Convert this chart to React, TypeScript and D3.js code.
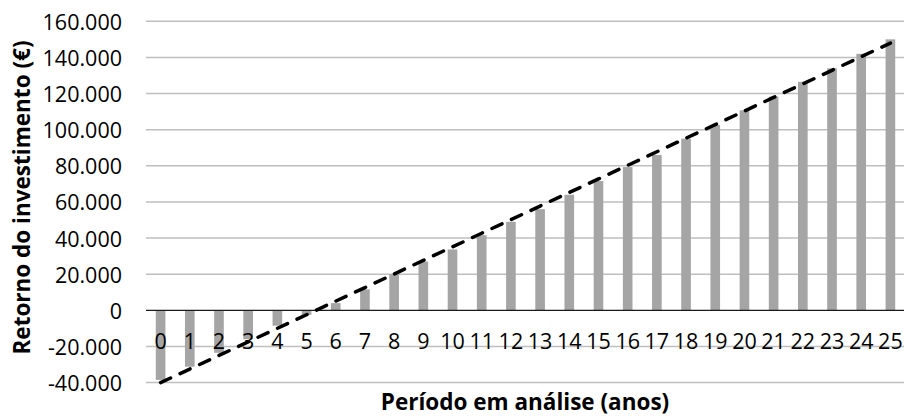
import React from 'react';
import * as d3 from 'd3';

// anos do período em análise
const periods: string[] = Array.from({ length: 26 }, (_, i) => String(i));

// retorno acumulado do investimento (€)
const retorno: number[] = [
  -38500, -31200, -23500, -16000, -8500, -2500, 4000, 11600, 20000, 27000,
  33700, 41600, 49000, 56000, 64000, 71600, 79300, 86000, 95000, 102600,
  110700, 118300, 126500, 134000, 142000, 150000,
];

const yTicks: number[] = [-40000, -20000, 0, 20000, 40000, 60000, 80000, 100000, 120000, 140000, 160000];

const W = 904;
const H = 416;
const plotLeft = 146;
const plotRight = 905;
const fontFamily = '"Open Sans", "Noto Sans", sans-serif';

const ptLocale = d3.formatLocale({
  decimal: ',',
  thousands: '.',
  grouping: [3],
  currency: ['', '€'],
  minus: '-',
});
const fmt = ptLocale.format(',');

const App: React.FC = () => {
  const x = d3
    .scaleBand<string>()
    .domain(periods)
    .range([plotLeft, plotRight])
    .paddingInner(0.67)
    .paddingOuter(0.335);

  const y = d3.scaleLinear().domain([-40000, 160000]).range([382.6, 21.3]);

  const cx = (p: string) => (x(p) ?? 0) + x.bandwidth() / 2;

  // linha de tendência linear (mínimos quadrados)
  const n = retorno.length;
  const xs = retorno.map((_, i) => i);
  const mx = d3.mean(xs) ?? 0;
  const my = d3.mean(retorno) ?? 0;
  const slope =
    d3.sum(xs, (xi, i) => (xi - mx) * (retorno[i] - my)) /
    d3.sum(xs, (xi) => (xi - mx) ** 2);
  const intercept = my - slope * mx;
  const trend = d3
    .line<number>()
    .x((i) => cx(periods[i]))
    .y((i) => y(intercept + slope * i));

  return (
    <svg
      width={W}
      height={H}
      style={{ position: 'absolute', left: 0, top: 0, background: '#fff' }}
      fontFamily={fontFamily}
    >
      {yTicks.map((t) => (
        <g key={t}>
          {t !== 0 && (
            <line x1={plotLeft} x2={W} y1={y(t)} y2={y(t)} stroke="#bfbfbf" strokeWidth={1.5} />
          )}
          <text
            x={122}
            y={y(t)}
            textAnchor="end"
            dominantBaseline="central"
            fontSize={21.5}
            fill="#000"
          >
            {fmt(t)}
          </text>
        </g>
      ))}

      {retorno.map((v, i) => (
        <rect
          key={i}
          x={x(periods[i])}
          y={Math.min(y(v), y(0))}
          width={x.bandwidth()}
          height={Math.abs(y(v) - y(0))}
          fill="#a5a5a5"
        />
      ))}

      <line x1={plotLeft} x2={W} y1={y(0)} y2={y(0)} stroke="#1a1a1a" strokeWidth={1.3} />

      {periods.map((p) => (
        <text key={p} x={cx(p)} y={349} textAnchor="middle" fontSize={21.5} fill="#000">
          {p}
        </text>
      ))}

      <path
        d={trend(d3.range(n)) ?? ''}
        fill="none"
        stroke="#000"
        strokeWidth={3.5}
        strokeLinecap="round"
        strokeDasharray="11,10.5"
      />

      <text
        transform="translate(30,197.5) rotate(-90)"
        textAnchor="middle"
        fontSize={22.5}
        fontWeight="bold"
        fill="#000"
      >
        Retorno do investimento (€)
      </text>
      <text x={525} y={410} textAnchor="middle" fontSize={22.5} fontWeight="bold" fill="#000">
        Período em análise (anos)
      </text>
    </svg>
  );
};

export default App;
